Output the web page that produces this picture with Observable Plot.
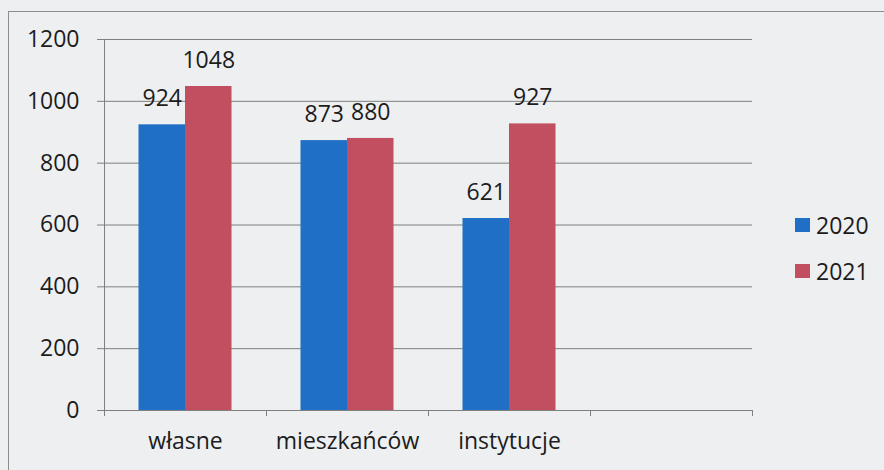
<!DOCTYPE html>
<html>
<head>
<meta charset="utf-8">
<script src="https://cdn.jsdelivr.net/npm/d3@7"></script>
<script src="https://cdn.jsdelivr.net/npm/@observablehq/plot@0.6"></script>
<style>
  html, body { margin: 0; padding: 0; background: #edeff1; }
  #wrap { position: relative; width: 884px; height: 470px; overflow: hidden; font-family: "Open Sans", sans-serif; color: #1c1c1c; }
  #border { position: absolute; left: 8px; top: 11px; right: -10px; bottom: -10px; border-left: 1px solid #8c8c8c; border-top: 1px solid #8c8c8c; }
  #chart { position: absolute; left: 0; top: 0; }
  #legend { position: absolute; left: 795px; top: 202px; font-size: 23px; line-height: 46px; }
  #legend .item { display: flex; align-items: center; }
  #legend .sw { width: 15px; height: 14px; margin-right: 6px; }
</style>
</head>
<body>
<div id="wrap">
  <div id="border"></div>
  <div id="chart"></div>
  <div id="legend"></div>
</div>
<script>
const categories = ["własne", "mieszkańców", "instytucje", ""];
const years = ["2020", "2021"];
const values2020 = [924, 873, 621];
const values2021 = [1048, 880, 927];
const yTicks = [0, 200, 400, 600, 800, 1000, 1200];
const colors = ["#1f6fc6", "#c24f5f"];

const rows2020 = values2020.map((v, i) => ({cat: categories[i], year: years[0], value: v}));
const rows2021 = values2021.map((v, i) => ({cat: categories[i], year: years[1], value: v}));

const W = 884, H = 470, mL = 104, mR = 132, mT = 39, mB = 60;
const band = (W - mL - mR) / categories.length;
const barW = 46.5;
const gridColor = "#7f7f7f";
const textColor = "#1c1c1c";
const fs = 23;

const chart = Plot.plot({
  width: W, height: H,
  marginLeft: mL, marginRight: mR, marginTop: mT, marginBottom: mB,
  style: {background: "transparent", fontFamily: "'Open Sans', sans-serif", fontSize: fs + "px", color: textColor, overflow: "visible"},
  x: {domain: categories, padding: 0, axis: null, label: null},
  y: {domain: [0, 1200], axis: null, label: null},
  color: {domain: years, range: colors},
  marks: [
    Plot.ruleY(yTicks, {stroke: gridColor, strokeWidth: 1, insetLeft: -7}),
    Plot.barY(rows2020, {x: "cat", y: "value", fill: "year", insetLeft: band / 2 - barW, insetRight: band / 2}),
    Plot.barY(rows2021, {x: "cat", y: "value", fill: "year", insetLeft: band / 2, insetRight: band / 2 - barW}),
    Plot.ruleX([categories[0]], {x: d => d, y1: 1200, y2: 0, dx: -band / 2, insetBottom: -6, stroke: gridColor}),
    Plot.ruleX(categories.slice(1), {x: d => d, y1: 0, y2: 0, dx: -band / 2, insetBottom: -6, stroke: gridColor}),
    Plot.ruleX([categories[categories.length - 1]], {x: d => d, y1: 0, y2: 0, dx: band / 2, insetBottom: -6, stroke: gridColor}),
    Plot.text(rows2020, {x: "cat", y: "value", text: d => String(d.value), dx: -barW / 2, dy: -26, fontSize: fs, fill: textColor}),
    Plot.text(rows2021, {x: "cat", y: "value", text: d => String(d.value), dx: barW / 2, dy: -26, fontSize: fs, fill: textColor}),
    Plot.axisY(yTicks, {tickSize: 0, tickPadding: 25, fontSize: fs, fill: textColor, label: null, tickFormat: d => String(d)}),
    Plot.axisX({tickSize: 0, tickPadding: 22, fontSize: fs, fill: textColor, label: null})
  ]
});
document.getElementById("chart").appendChild(chart);

const legend = document.getElementById("legend");
years.forEach((y, i) => {
  const item = document.createElement("div");
  item.className = "item";
  const sw = document.createElement("span");
  sw.className = "sw";
  sw.style.background = colors[i];
  const t = document.createElement("span");
  t.textContent = y;
  item.appendChild(sw);
  item.appendChild(t);
  legend.appendChild(item);
});
</script>
</body>
</html>
